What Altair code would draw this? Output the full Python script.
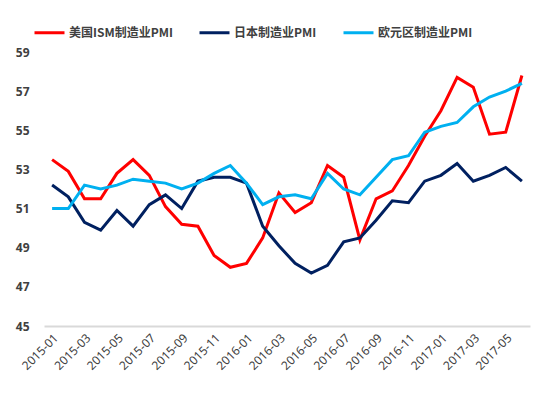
import altair as alt
import pandas as pd

months = ["2015-01", "2015-02", "2015-03", "2015-04", "2015-05", "2015-06",
          "2015-07", "2015-08", "2015-09", "2015-10", "2015-11", "2015-12",
          "2016-01", "2016-02", "2016-03", "2016-04", "2016-05", "2016-06",
          "2016-07", "2016-08", "2016-09", "2016-10", "2016-11", "2016-12",
          "2017-01", "2017-02", "2017-03", "2017-04", "2017-05", "2017-06"]
tick_months = ["2015-01", "2015-03", "2015-05", "2015-07", "2015-09", "2015-11",
               "2016-01", "2016-03", "2016-05", "2016-07", "2016-09", "2016-11",
               "2017-01", "2017-03", "2017-05"]
y_ticks = [45, 47, 49, 51, 53, 55, 57, 59]

us_ism = [53.5, 52.9, 51.5, 51.5, 52.8, 53.5, 52.7, 51.1, 50.2, 50.1, 48.6, 48.0,
          48.2, 49.5, 51.8, 50.8, 51.3, 53.2, 52.6, 49.4, 51.5, 51.9, 53.2, 54.7,
          56.0, 57.7, 57.2, 54.8, 54.9, 57.8]
japan = [52.2, 51.6, 50.3, 49.9, 50.9, 50.1, 51.2, 51.7, 51.0, 52.4, 52.6, 52.6,
         52.3, 50.1, 49.1, 48.2, 47.7, 48.1, 49.3, 49.5, 50.4, 51.4, 51.3, 52.4,
         52.7, 53.3, 52.4, 52.7, 53.1, 52.4]
euro = [51.0, 51.0, 52.2, 52.0, 52.2, 52.5, 52.4, 52.3, 52.0, 52.3, 52.8, 53.2,
        52.3, 51.2, 51.6, 51.7, 51.5, 52.8, 52.0, 51.7, 52.6, 53.5, 53.7, 54.9,
        55.2, 55.4, 56.2, 56.7, 57.0, 57.4]

names = ["美国ISM制造业PMI", "日本制造业PMI", "欧元区制造业PMI"]
colors = ["#FF0000", "#002060", "#00B0F0"]

rows = []
for name, vals in zip(names, [us_ism, japan, euro]):
    for m, v in zip(months, vals):
        rows.append({"month": m, "value": v, "series": name})
df = pd.DataFrame(rows)

chart = alt.Chart(df).mark_line(strokeWidth=3).encode(
    x=alt.X("month:O", sort=months,
            scale=alt.Scale(type="point", padding=0.5),
            axis=alt.Axis(values=tick_months, labelAngle=-45, title=None,
                          tickSize=0, ticks=False, grid=False,
                          domainColor="#D9D9D9", domainWidth=2,
                          labelFontSize=12, labelColor="#404040",
                          labelFont="Noto Sans", labelPadding=6)),
    y=alt.Y("value:Q",
            scale=alt.Scale(domain=[45, 59], nice=False, zero=False),
            axis=alt.Axis(values=y_ticks, title=None, grid=False, domain=False,
                          ticks=False, labelPadding=15, labelFontSize=12,
                          labelFontWeight="bold", labelColor="#404040",
                          labelFont="Noto Sans")),
    color=alt.Color("series:N", sort=names,
                    scale=alt.Scale(domain=names, range=colors),
                    legend=alt.Legend(title=None, orient="none", direction="horizontal",
                                      legendX=-11, legendY=-36,
                                      symbolType="stroke", symbolSize=900,
                                      symbolStrokeWidth=3, labelOffset=3,
                                      columnPadding=20, labelFontSize=12,
                                      labelFontWeight="bold", labelColor="#404040",
                                      labelFont="Noto Sans CJK SC", padding=0)),
    detail="series:N",
).properties(
    width=486, height=274,
    autosize="none",
    padding={"left": 36, "top": 44, "right": 12, "bottom": 60},
).configure_view(stroke=None)

chart.save("out.html", embed_options={"renderer": "svg", "actions": False})
